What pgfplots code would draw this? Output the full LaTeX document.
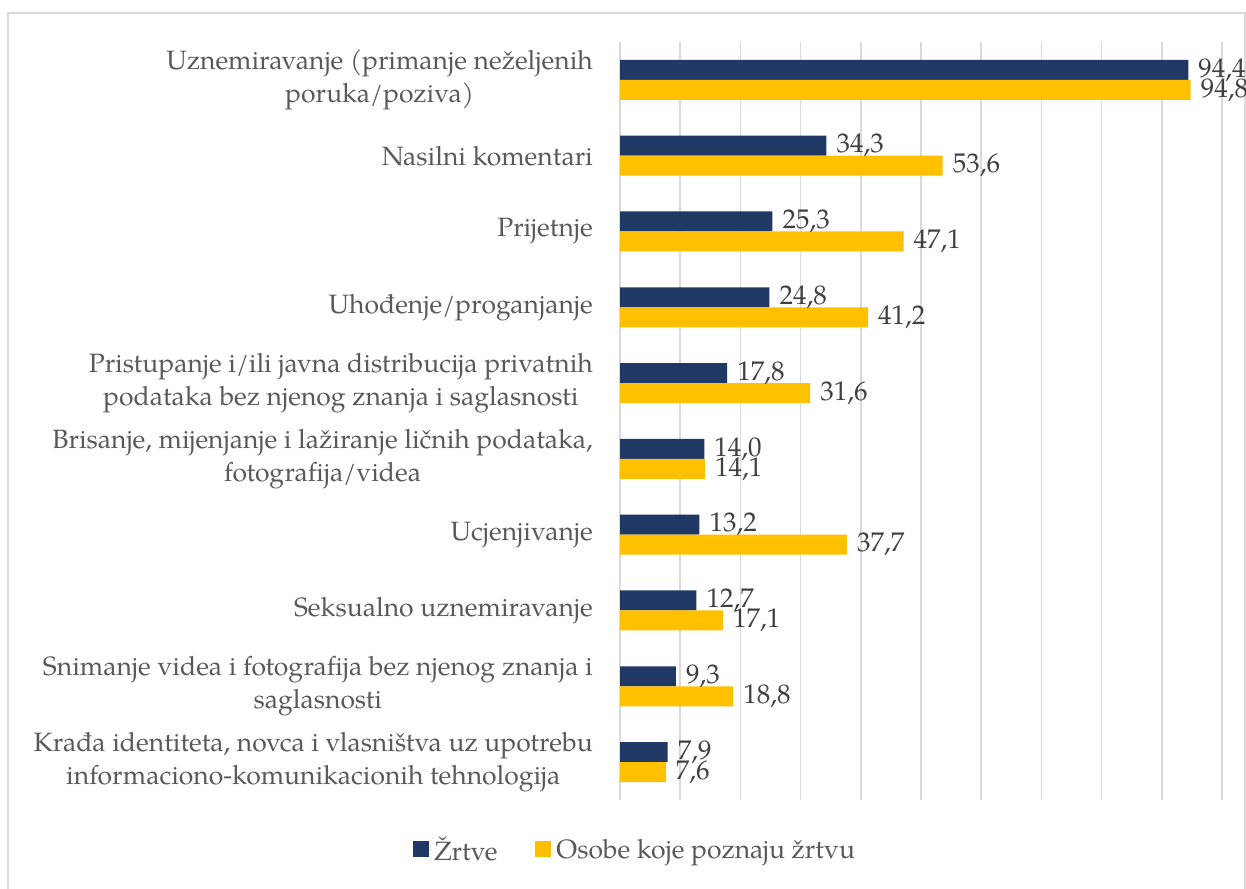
\documentclass[border=0pt]{standalone}
\usepackage{pgfplots}
\pgfplotsset{compat=1.18}
\usepackage{pgfplotstable}
\usepackage{fontspec}
\setmainfont{texgyrepagella}[Extension=.otf, UprightFont=*-regular, BoldFont=*-bold, ItalicFont=*-italic, BoldItalicFont=*-bolditalic]
\definecolor{navy}{HTML}{203864}
\definecolor{gold}{HTML}{FFC000}
\definecolor{txt}{HTML}{595959}
\definecolor{val}{HTML}{404040}
\definecolor{grd}{HTML}{D9D9D9}
\newcommand\cf{\fontsize{26.5}{33}\selectfont}
\newcommand\vf{\fontsize{27}{30}\selectfont}
\pgfplotstableread{
y a b
9 94.4 94.8
8 34.3 53.6
7 25.3 47.1
6 24.8 41.2
5 17.8 31.6
4 14.0 14.1
3 13.2 37.7
2 12.7 17.1
1 9.3 18.8
0 7.9 7.6
}\datatable
\begin{document}
\begin{tikzpicture}
\path[use as bounding box, fill=white] (0pt,0pt) rectangle (1246pt,888pt);
\draw[grd, line width=1.5pt] (8pt,-2pt) -- (8pt,875pt) -- (1245pt,875pt) -- (1245pt,-2pt);
\begin{axis}[
  at={(620pt,88pt)}, anchor=south west,
  scale only axis, width=602pt, height=758pt,
  xmin=0, xmax=100, ymin=-0.5, ymax=9.5,
  xbar, bar width=20pt,
  clip=false,
  axis line style={draw=none},
  xtick={0,10,...,100}, xticklabels={},
  xmajorgrids, grid style={grd, line width=1.5pt},
  major tick length=0pt,
  ytick={0,...,9},
  yticklabels={
    {Krađa identiteta, novca i vlasništva uz upotrebu\\informaciono-komunikacionih tehnologija},
    {Snimanje videa i fotografija bez njenog znanja i\\saglasnosti},
    {Seksualno uznemiravanje},
    {Ucjenjivanje},
    {Brisanje, mijenjanje i lažiranje ličnih podataka,\\fotografija/videa},
    {Pristupanje i/ili javna distribucija privatnih\\podataka bez njenog znanja i saglasnosti},
    {Uhođenje/proganjanje},
    {Prijetnje},
    {Nasilni komentari},
    {Uznemiravanje (primanje neželjenih\\poruka/poziva)}},
  yticklabel style={font=\cf, text=txt, align=center, inner sep=0pt, xshift=-27pt},
  point meta=x,
  nodes near coords={\pgfmathprintnumber{\pgfplotspointmeta}},
  nodes near coords style={anchor=west, font=\vf, text=val, inner sep=0pt, xshift=10pt,
    /pgf/number format/.cd, fixed, fixed zerofill, precision=1, use comma, assume math mode=true},
  legend image code/.code={\fill[#1] (0pt,-8pt) rectangle (16pt,8pt); \path (0pt,0pt) -- (19pt,0pt);},
  legend style={draw=none, fill=none, at={(axis description cs:0.025,-0.065)}, anchor=center,
    legend columns=2, font=\cf, text=txt,
    /tikz/every even column/.append style={column sep=36pt}},
]
\addplot[fill=navy, draw=none, bar shift=10pt] table[x=a, y=y] {\datatable};
\addplot[fill=gold, draw=none, bar shift=-10pt] table[x=b, y=y] {\datatable};
\legend{Žrtve, Osobe koje poznaju žrtvu}
\end{axis}
\end{tikzpicture}
\end{document}
